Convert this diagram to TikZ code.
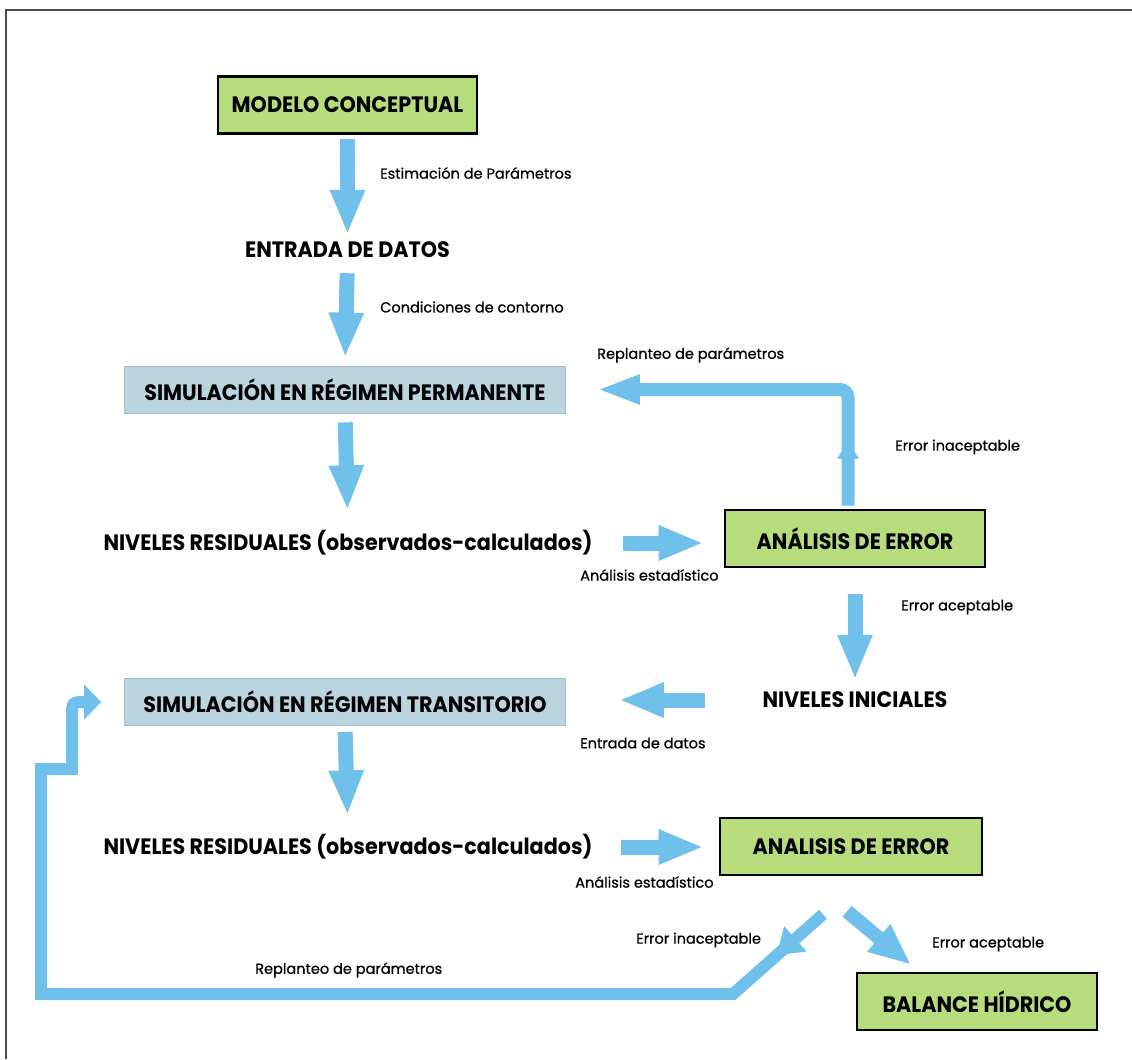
\documentclass[tikz,border=0pt]{standalone}
\usepackage{fontspec}
\setmainfont{Poppins}
\newfontfamily\grande[FakeStretch=0.93]{Poppins}
\newfontfamily\chica[FakeBold=0.8]{Poppins}
\usetikzlibrary{arrows.meta,decorations.markings}

\definecolor{verdecaja}{RGB}{182,220,124}
\definecolor{azulcaja}{RGB}{186,212,224}
\definecolor{bordeazul}{RGB}{160,190,206}
\definecolor{azulflecha}{RGB}{112,192,236}

% 1 unit of the picture = 0.03cm
\tikzset{
  caja/.style={draw=black, line width=2.2pt, fill=verdecaja, minimum height=1.71cm,
    inner sep=0pt, font=\grande\bfseries\fontsize{19}{19}\selectfont},
  simul/.style={draw=bordeazul, line width=0.6pt, fill=azulcaja, minimum width=13.23cm,
    minimum height=1.41cm, inner sep=0pt, font=\grande\bfseries\fontsize{19}{19}\selectfont},
  texto/.style={inner sep=0pt, font=\grande\bfseries\fontsize{19}{19}\selectfont},
  etiqueta/.style={inner sep=0pt, anchor=west, font=\chica\fontsize{12.4}{12.4}\selectfont},
  flujo/.style={azulflecha, line width=0.45cm, -{Triangle[length=1.35cm, width=0.96cm]}},
  retorno/.style={azulflecha, line width=0.39cm, -{Triangle[length=1.29cm, width=0.81cm]}},
}

\begin{document}
\begin{tikzpicture}[x=0.03cm, y=-0.03cm]
  \useasboundingbox (0,0) rectangle (1132,1059);

  % Frame
  \draw[black!70, line width=1.6pt] (1132,10) -- (6,10) -- (6,1059);

  % Boxes and levels
  \node[caja, minimum width=7.77cm] (modelo) at (347.5,105) {MODELO CONCEPTUAL};
  \node[texto] (entrada) at (347.5,250) {ENTRADA DE DATOS};
  \node[simul] (perm) at (345,389.5) {SIMULACIÓN EN RÉGIMEN PERMANENTE};
  \node[texto] (resid1) at (348,543) {NIVELES RESIDUALES (observados-calculados)};
  \node[caja, minimum width=7.8cm] (error1) at (855,538.5) {ANÁLISIS DE ERROR};
  \node[texto] (iniciales) at (855,700) {NIVELES INICIALES};
  \node[simul] (trans) at (345,702) {SIMULACIÓN EN RÉGIMEN TRANSITORIO};
  \node[texto] (resid2) at (348,847) {NIVELES RESIDUALES (observados-calculados)};
  \node[caja, minimum width=7.86cm] (error2) at (851,846.5) {ANALISIS DE ERROR};
  \node[caja, minimum width=7.2cm] (balance) at (977,1001.5) {BALANCE HÍDRICO};

  % Labels
  \node[etiqueta] (estim) at (380,173) {Estimación de Parámetros};
  \node[etiqueta] (contorno) at (380,307) {Condiciones de contorno};
  \node[etiqueta] (replan1) at (597,355) {Replanteo de parámetros};
  \node[etiqueta] (inacep1) at (895,447) {Error inaceptable};
  \node[etiqueta] (estad1) at (580,575) {Análisis estadístico};
  \node[etiqueta] (acep1) at (901,607) {Error aceptable};
  \node[etiqueta] (datos) at (580,743) {Entrada de datos};
  \node[etiqueta] (estad2) at (575,882) {Análisis estadístico};
  \node[etiqueta] (inacep2) at (636,940) {Error inaceptable};
  \node[etiqueta] (acep2) at (932,944) {Error aceptable};
  \node[etiqueta] (replan2) at (255,970) {Replanteo de parámetros};

  % Main flow
  \draw[flujo, shorten <=0.135cm, shorten >=0.21cm] (modelo.south) -- (entrada.north);
  \draw[flujo, shorten <=0.45cm, shorten >=0.24cm] (entrada.south) -- (perm.north);
  \draw[flujo, shorten <=0.27cm, shorten >=0.6cm] (perm.south) -- (resid1.north);
  \draw[flujo, shorten <=0.9cm, shorten >=0.6cm] (resid1.east) -- (resid1.east -| error1.west);
  \draw[flujo, shorten <=0.78cm, shorten >=0.36cm] (error1.south) -- (iniciales.north);
  \draw[flujo, shorten <=1.71cm, shorten >=1.59cm] (iniciales.west) -- (iniciales.west -| trans.east);
  \draw[flujo, shorten <=0.18cm, shorten >=0.57cm] (trans.south) -- (resid2.north);
  \draw[flujo, shorten <=0.84cm, shorten >=0.45cm] (resid2.east) -- (resid2.east -| error2.west);
  \draw[flujo, line width=0.42cm, -{Triangle[length=1.26cm, width=0.99cm]}]
    ([shift={(-4,35)}]error2.south) -- ([shift={(-66,-7)}]balance.north);

  % Feedback loops
  \draw[retorno, rounded corners=0.24cm, postaction={decorate},
    decoration={markings, mark=at position 1.92cm with {\arrow{Triangle[length=0.51cm, width=0.63cm]}}}]
    ([shift={(-7,-3)}]error1.north) |- ([shift={(31,0)}]perm.east);
  \draw[retorno, line width=0.36cm, -{Triangle[length=0.51cm, width=1.02cm]}, postaction={decorate},
    decoration={markings, mark=at position 1.86cm with {\arrow{Triangle[length=0.75cm, width=0.96cm]}}}]
    ([shift={(-28,38)}]error2.south) -- (733,994) -- (41,994) -- (41,769) -- (72,769)
    -- (72,716) .. controls (72,702) .. (86,702) -- ([shift={(-23,0)}]trans.west);
\end{tikzpicture}
\end{document}
